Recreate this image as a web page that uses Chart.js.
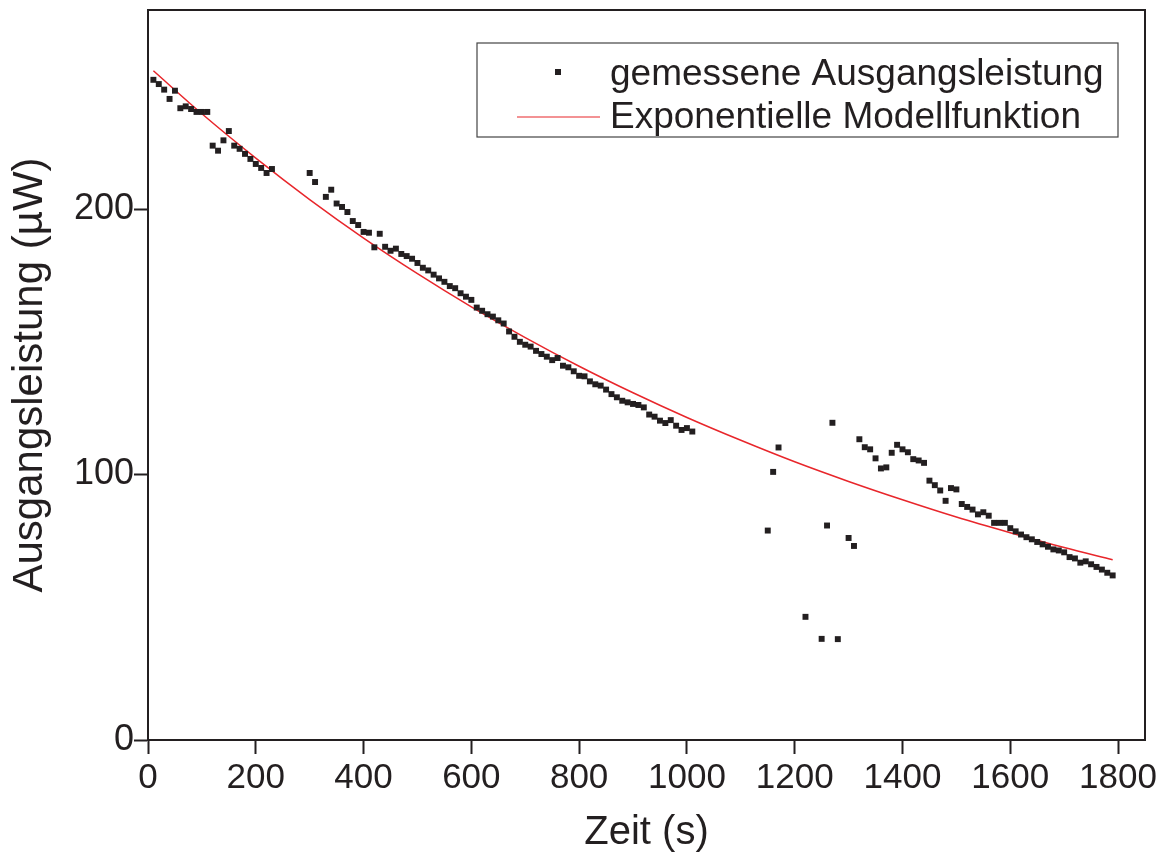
<!DOCTYPE html>
<html>
<head>
<meta charset="utf-8">
<script src="https://cdn.jsdelivr.net/npm/chart.js@4/dist/chart.umd.min.js"></script>
<style>
  body { margin: 0; background: #fff; }
</style>
</head>
<body>
<canvas id="leistungChart" width="1163" height="856"></canvas>
<script>
// gemessene Werte (Zeit in s, Leistung in µW)
const zeitMess = [
  10, 20, 30, 40, 50, 60, 70, 80, 90, 100, 110, 120, 130, 140, 150, 160, 170, 180, 190, 200, 210, 220, 230,
  300, 310, 330, 340, 350, 360, 370, 380, 390, 400, 410, 420, 430, 440, 450, 460, 470, 480, 490,
  500, 510, 520, 530, 540, 550, 560, 570, 580, 590, 600, 610, 620, 630, 640, 650, 660, 670, 680, 690,
  700, 710, 720, 730, 740, 750, 760, 770, 780, 790, 800, 810, 820, 830, 840, 850, 860, 870, 880, 890,
  900, 910, 920, 930, 940, 950, 960, 970, 980, 990, 1000, 1010,
  1150, 1160, 1170, 1220, 1250, 1260, 1270, 1280, 1300, 1310, 1320, 1330, 1340, 1350, 1360, 1370, 1380, 1390,
  1400, 1410, 1420, 1430, 1440, 1450, 1460, 1470, 1480, 1490, 1500, 1510, 1520, 1530, 1540, 1550, 1560, 1570, 1580, 1590,
  1600, 1610, 1620, 1630, 1640, 1650, 1660, 1670, 1680, 1690, 1700, 1710, 1720, 1730, 1740, 1750, 1760, 1770, 1780, 1790
];
const leistungMess = [
  248.7, 247.1, 245.0, 241.5, 244.6, 238.0, 238.7, 237.7, 236.6, 236.6, 236.6, 223.9, 222.0, 225.9, 229.4, 223.9, 222.7, 220.8, 218.9, 217.0, 215.5, 213.6, 215.1,
  213.6, 210.2, 204.6, 207.3, 202.1, 200.8, 198.9, 195.5, 194.0, 191.4, 191.1, 185.6, 190.7, 185.8, 184.3, 185.1, 183.1, 182.3, 181.3,
  179.7, 177.9, 176.9, 175.3, 173.9, 172.6, 171.0, 170.2, 168.3, 167.0, 165.8, 162.9, 161.7, 160.4, 159.5, 158.1, 156.9, 153.9, 151.9, 150.0,
  148.9, 148.2, 146.6, 145.4, 144.4, 143.1, 143.9, 141.0, 140.4, 138.9, 137.2, 137.0, 135.1, 134.0, 133.5, 132.0, 130.3, 129.1, 127.8, 127.2,
  126.6, 126.2, 125.3, 122.6, 121.8, 120.3, 119.4, 120.5, 118.4, 116.8, 117.5, 116.2,
  78.9, 101.0, 110.2, 46.4, 38.1, 80.8, 119.5, 38.0, 76.1, 73.1, 113.3, 110.3, 109.5, 106.1, 102.3, 102.7, 108.2, 111.2,
  109.5, 108.4, 105.8, 105.3, 104.4, 97.7, 96.0, 94.0, 90.1, 94.9, 94.4, 88.9, 87.8, 86.8, 85.0, 85.8, 84.5, 81.8, 81.8, 81.8,
  79.8, 78.6, 77.4, 76.4, 75.6, 74.6, 73.7, 72.8, 71.8, 71.4, 70.7, 68.9, 68.4, 66.8, 67.3, 66.2, 65.2, 64.2, 63.0, 62.0
];

// Modellkurve
const zeitModell = [10, 100, 200, 300, 400, 500, 600, 700, 800, 900, 1000, 1100, 1200, 1300, 1400, 1500, 1600, 1700, 1790];
const leistungModell = [252.1, 235.9, 219.2, 203.6, 189.1, 175.7, 163.2, 151.6, 140.8, 130.8, 121.5, 112.9, 104.8, 97.4, 90.5, 84.0, 78.1, 72.5, 67.9];

const dunkel = '#231f20';
const rot = '#e8262b';
const schrift = "'Liberation Sans', Arial, sans-serif";

const toPoints = (xs, ys) => xs.map((x, i) => ({ x: x, y: ys[i] }));

// rahmen, kleine ticks und legende
const rahmen = {
  id: 'rahmen',
  afterDraw(chart) {
    const { ctx, chartArea: a, scales: { x, y } } = chart;
    ctx.save();
    ctx.strokeStyle = dunkel;
    ctx.lineWidth = 2;
    ctx.beginPath();
    ctx.moveTo(a.left, a.top);
    ctx.lineTo(a.right, a.top);
    ctx.lineTo(a.right, a.bottom);
    ctx.stroke();

    ctx.beginPath();
    x.ticks.forEach(t => {
      if (t.value % 200 === 100) {
        const px = x.getPixelForValue(t.value);
        ctx.moveTo(px, a.bottom);
        ctx.lineTo(px, a.bottom + 7);
      }
    });
    y.ticks.forEach(t => {
      if (t.value % 100 === 50) {
        const py = y.getPixelForValue(t.value);
        ctx.moveTo(a.left, py);
        ctx.lineTo(a.left - 7, py);
      }
    });
    ctx.stroke();

    // legende
    const lx = a.left + 329, ly = a.top + 33;
    const lw = a.right - 27 - lx, lh = 94;
    ctx.lineWidth = 1.2;
    ctx.strokeStyle = '#444';
    ctx.strokeRect(lx, ly, lw, lh);

    ctx.fillStyle = dunkel;
    ctx.fillRect(a.left + 407, a.top + 59, 6, 6);
    ctx.strokeStyle = rot;
    ctx.lineWidth = 1.2;
    ctx.beginPath();
    ctx.moveTo(a.left + 369, a.top + 107);
    ctx.lineTo(a.left + 452, a.top + 107);
    ctx.stroke();

    ctx.font = '37px ' + schrift;
    ctx.textBaseline = 'alphabetic';
    ctx.textAlign = 'left';
    ctx.fillStyle = dunkel;
    ctx.fillText(chart.data.datasets[0].label, a.left + 462, a.top + 75);
    ctx.fillText(chart.data.datasets[1].label, a.left + 462, a.top + 118);
    ctx.restore();
  }
};

const data = {
  datasets: [{
    label: 'gemessene Ausgangsleistung',
    data: toPoints(zeitMess, leistungMess),
    pointStyle: 'rect',
    pointRadius: 4.2,
    pointBackgroundColor: dunkel,
    pointBorderWidth: 0,
    showLine: false
  }, {
    label: 'Exponentielle Modellfunktion',
    data: toPoints(zeitModell, leistungModell),
    showLine: true,
    borderColor: rot,
    borderWidth: 1.5,
    pointRadius: 0,
    cubicInterpolationMode: 'monotone'
  }]
};

const config = {
  type: 'scatter',
  data,
  options: {
    responsive: false,
    animation: false,
    layout: { padding: { top: 10, right: 18, left: 0, bottom: 0 } },
    plugins: {
      legend: { display: false },
      tooltip: { enabled: false }
    },
    scales: {
      x: {
        type: 'linear',
        min: 0,
        max: 1850,
        afterFit: s => { s.height = 116; s.paddingLeft = 0; s.paddingRight = 0; },
        ticks: {
          stepSize: 100,
          includeBounds: false,
          padding: 3,
          color: dunkel,
          font: { family: schrift, size: 35 },
          maxRotation: 0,
          autoSkip: false,
          callback: v => (v % 200 === 0 ? v : null)
        },
        grid: {
          drawOnChartArea: false,
          tickLength: 14,
          tickWidth: 2,
          tickColor: dunkel
        },
        border: { display: true, color: dunkel, width: 2 },
        title: {
          display: true,
          text: 'Zeit (s)',
          color: dunkel,
          font: { family: schrift, size: 40, lineHeight: 1.0 },
          padding: { top: 0, bottom: 3 }
        }
      },
      y: {
        min: 0,
        max: 275,
        afterFit: s => { s.width = 148; s.paddingTop = 0; s.paddingBottom = 0; },
        ticks: {
          stepSize: 50,
          includeBounds: false,
          padding: 0,
          color: dunkel,
          font: { family: schrift, size: 36 },
          autoSkip: false,
          callback: v => (v % 100 === 0 ? v : null)
        },
        grid: {
          drawOnChartArea: false,
          tickLength: 14,
          tickWidth: 2,
          tickColor: dunkel
        },
        border: { display: true, color: dunkel, width: 2 },
        title: {
          display: true,
          text: 'Ausgangsleistung (µW)',
          color: dunkel,
          font: { family: schrift, size: 42, lineHeight: 1.2 },
          padding: { top: 5, bottom: 0 }
        }
      }
    }
  },
  plugins: [rahmen]
};

const leistungChart = new Chart(document.getElementById('leistungChart'), config);
</script>
</body>
</html>
